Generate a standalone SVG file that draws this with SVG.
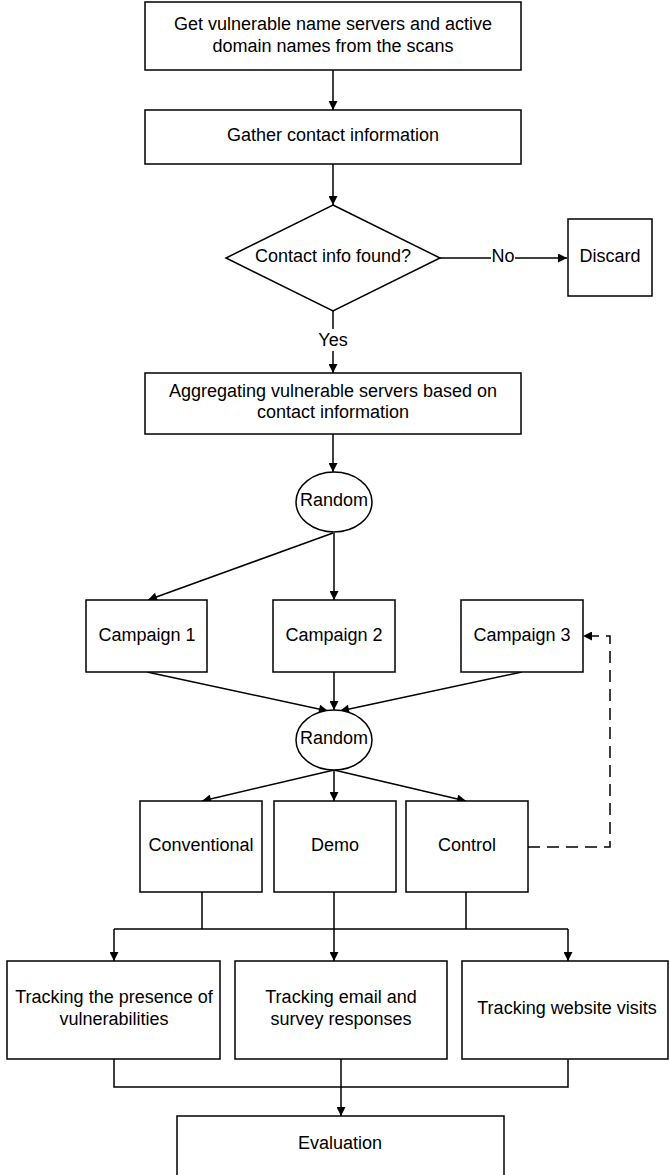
<svg xmlns="http://www.w3.org/2000/svg" width="669" height="1175" viewBox="0 0 669 1175">
<defs>
<style>
.n{fill:#fff;stroke:#000;stroke-width:1.5}
.t{font-family:"Liberation Sans",Arial,sans-serif;font-size:18px;fill:#000;text-anchor:middle}
.c{fill:none;stroke:#000;stroke-width:1.5}
.d{fill:none;stroke:#000;stroke-width:1.5;stroke-dasharray:12 7}
</style>
<marker id="a" viewBox="0 0 10 10" refX="10" refY="5" markerWidth="10" markerHeight="9" markerUnits="userSpaceOnUse" orient="auto">
<path d="M0,0 L10,5 L0,10 z" fill="#000"/>
</marker>
</defs>
<rect width="669" height="1175" fill="#fff"/>
<g id="connectors">
<path class="c" d="M333,70 V110" marker-end="url(#a)"/>
<path class="c" d="M333,164 V205" marker-end="url(#a)"/>
<path class="c" d="M440,258 H567" marker-end="url(#a)"/>
<path class="c" d="M333,311 V373" marker-end="url(#a)"/>
<path class="c" d="M333,434 V472" marker-end="url(#a)"/>
<path class="c" d="M333,533 L148,600" marker-end="url(#a)"/>
<path class="c" d="M334,533 V600" marker-end="url(#a)"/>
<path class="c" d="M147,672 L328,711" marker-end="url(#a)"/>
<path class="c" d="M334,672 V710" marker-end="url(#a)"/>
<path class="c" d="M522,672 L340,711" marker-end="url(#a)"/>
<path class="c" d="M334,770 L202,801" marker-end="url(#a)"/>
<path class="c" d="M334,770 V801" marker-end="url(#a)"/>
<path class="c" d="M334,770 L466,801" marker-end="url(#a)"/>
<path class="d" d="M528,847 H610 V636 H583" marker-end="url(#a)"/>
<path class="c" d="M202,892 V929 M466,892 V929 M114,929 H568"/>
<path class="c" d="M334,892 V961" marker-end="url(#a)"/>
<path class="c" d="M114,929 V961" marker-end="url(#a)"/>
<path class="c" d="M568,929 V961" marker-end="url(#a)"/>
<path class="c" d="M114,1059 V1087 H568 V1059"/>
<path class="c" d="M341,1059 V1116" marker-end="url(#a)"/>
<rect x="491" y="247" width="24" height="22" fill="#fff"/>
<text class="t" x="503" y="262">No</text>
<rect x="316" y="329" width="34" height="22" fill="#fff"/>
<text class="t" x="333" y="346">Yes</text>
</g>
<g id="n1"><rect class="n" x="145" y="2" width="376" height="68"/><text class="t" x="333" y="30">Get vulnerable name servers and active</text><text class="t" x="333" y="52">domain names from the scans</text></g>
<g id="n2"><rect class="n" x="145" y="110" width="376" height="54"/><text class="t" x="333" y="141">Gather contact information</text></g>
<g id="n3"><polygon class="n" points="333,205 440,258 333,311 226,258"/><text class="t" x="333" y="262">Contact info found?</text></g>
<g id="n4"><rect class="n" x="568" y="219" width="84" height="77"/><text class="t" x="610" y="262">Discard</text></g>
<g id="n5"><rect class="n" x="145" y="373" width="376" height="61"/><text class="t" x="333" y="397">Aggregating vulnerable servers based on</text><text class="t" x="333" y="418">contact information</text></g>
<g id="n6"><ellipse class="n" cx="334" cy="502" rx="38" ry="30"/><text class="t" x="334" y="506">Random</text></g>
<g id="n7"><rect class="n" x="86" y="600" width="121" height="72"/><text class="t" x="147" y="641">Campaign 1</text></g>
<g id="n8"><rect class="n" x="273" y="600" width="122" height="72"/><text class="t" x="334" y="641">Campaign 2</text></g>
<g id="n9"><rect class="n" x="461" y="600" width="122" height="72"/><text class="t" x="522" y="641">Campaign 3</text></g>
<g id="n10"><ellipse class="n" cx="334" cy="740" rx="38" ry="30"/><text class="t" x="334" y="744">Random</text></g>
<g id="n11"><rect class="n" x="140" y="801" width="122" height="91"/><text class="t" x="201" y="851">Conventional</text></g>
<g id="n12"><rect class="n" x="274" y="801" width="122" height="91"/><text class="t" x="335" y="851">Demo</text></g>
<g id="n13"><rect class="n" x="406" y="801" width="122" height="91"/><text class="t" x="467" y="851">Control</text></g>
<g id="n14"><rect class="n" x="7" y="961" width="213" height="98"/><text class="t" x="114" y="1003">Tracking the presence of</text><text class="t" x="114" y="1025">vulnerabilities</text></g>
<g id="n15"><rect class="n" x="235" y="961" width="212" height="98"/><text class="t" x="341" y="1003">Tracking email and</text><text class="t" x="341" y="1025">survey responses</text></g>
<g id="n16"><rect class="n" x="462" y="961" width="206" height="98"/><text class="t" x="567" y="1014">Tracking website visits</text></g>
<g id="n17"><rect class="n" x="177" y="1116" width="327" height="70"/><text class="t" x="340" y="1149">Evaluation</text></g>
</svg>
